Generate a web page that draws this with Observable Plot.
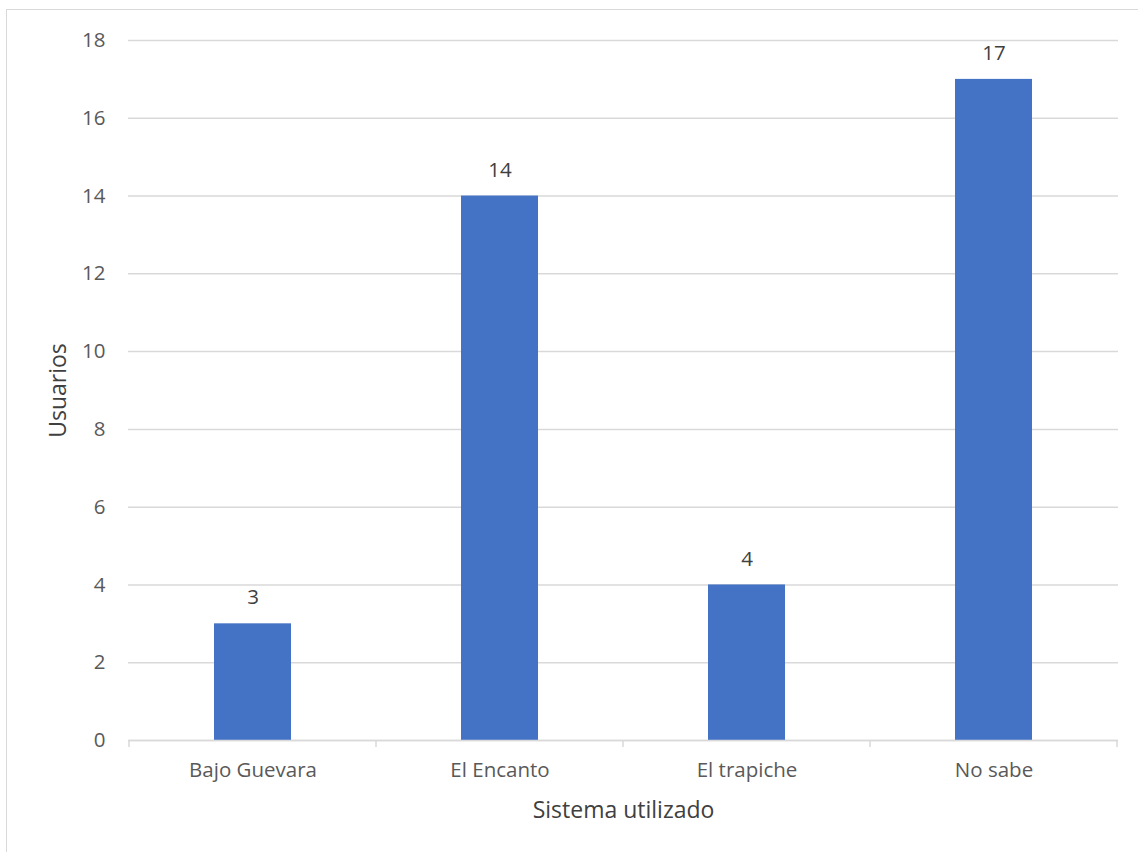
<!DOCTYPE html>
<html><head><meta charset="utf-8">
<script src="https://cdn.jsdelivr.net/npm/d3@7"></script>
<script src="https://cdn.jsdelivr.net/npm/@observablehq/plot@0.6"></script>
<style>
body{margin:0;background:#fff}
#wrap{position:relative;width:1138px;height:852px;overflow:hidden;background:#fff}
#border{position:absolute;left:6px;top:9px;width:1200px;height:900px;border:1.5px solid #d9d9d9;pointer-events:none}
#wrap svg{position:absolute;left:0;top:0}
</style>
</head><body>
<div id="wrap"><div id="border"></div></div>
<script>
const categories = ["Bajo Guevara", "El Encanto", "El trapiche", "No sabe"];
const usuarios = [3, 14, 4, 17];
const yTicks = [0, 2, 4, 6, 8, 10, 12, 14, 16, 18];
const xTitle = "Sistema utilizado";
const yTitle = "Usuarios";

const data = categories.map((c, i) => ({sistema: c, usuarios: usuarios[i]}));
const font = "'Open Sans', sans-serif";
const grid = "#d9d9d9";
const padIn = 0.689;
const fs = 20.5;

const edgeTicks = (index, scales, values, dimensions) => {
  const x = scales.x, y = scales.y;
  const step = x(categories[1]) - x(categories[0]);
  const bw = typeof x.bandwidth === "function" ? x.bandwidth() : step * (1 - padIn);
  const y0 = y(0);
  const edges = categories.map(c => x(c) + bw / 2 - step / 2);
  edges.push(x(categories[categories.length - 1]) + bw / 2 + step / 2);
  const g = d3.create("svg:g");
  g.selectAll("line").data(edges).join("line")
    .attr("x1", d => d).attr("x2", d => d)
    .attr("y1", y0).attr("y2", y0 + 7)
    .attr("stroke", grid).attr("stroke-width", 1.5);
  return g.node();
};

const chart = Plot.plot({
  width: 1138,
  height: 852,
  marginLeft: 128,
  marginRight: 20,
  marginTop: 40,
  marginBottom: 112,
  style: {fontFamily: font, fontSize: fs + "px", color: "#595959", background: "transparent"},
  x: {domain: categories, paddingInner: padIn, paddingOuter: padIn / 2, label: null},
  y: {domain: [0, 18], ticks: yTicks, label: null},
  marks: [
    Plot.gridY(yTicks, {stroke: grid, strokeOpacity: 1, strokeWidth: 1.5}),
    Plot.barY(data, {x: "sistema", y: "usuarios", fill: "#4472C4"}),
    Plot.ruleY([0], {stroke: grid, strokeWidth: 1.5}),
    edgeTicks,
    Plot.axisY(yTicks, {tickSize: 0, tickPadding: 23, fontSize: fs, fill: "#595959", label: null}),
    Plot.axisX({tickSize: 0, tickPadding: 22, fontSize: fs, fill: "#595959", label: null}),
    Plot.text(data, {x: "sistema", y: "usuarios", text: d => String(d.usuarios), dy: -26, lineAnchor: "middle", fontSize: fs, fill: "#404040"}),
    Plot.text([xTitle], {frameAnchor: "bottom", dy: 70, textAnchor: "middle", lineAnchor: "middle", text: d => d, fontSize: 23, fill: "#404040"}),
    Plot.text([yTitle], {frameAnchor: "left", dx: -70, rotate: -90, textAnchor: "middle", lineAnchor: "middle", text: d => d, fontSize: 23, fill: "#404040"})
  ]
});
document.getElementById("wrap").appendChild(chart);
</script>
</body></html>
